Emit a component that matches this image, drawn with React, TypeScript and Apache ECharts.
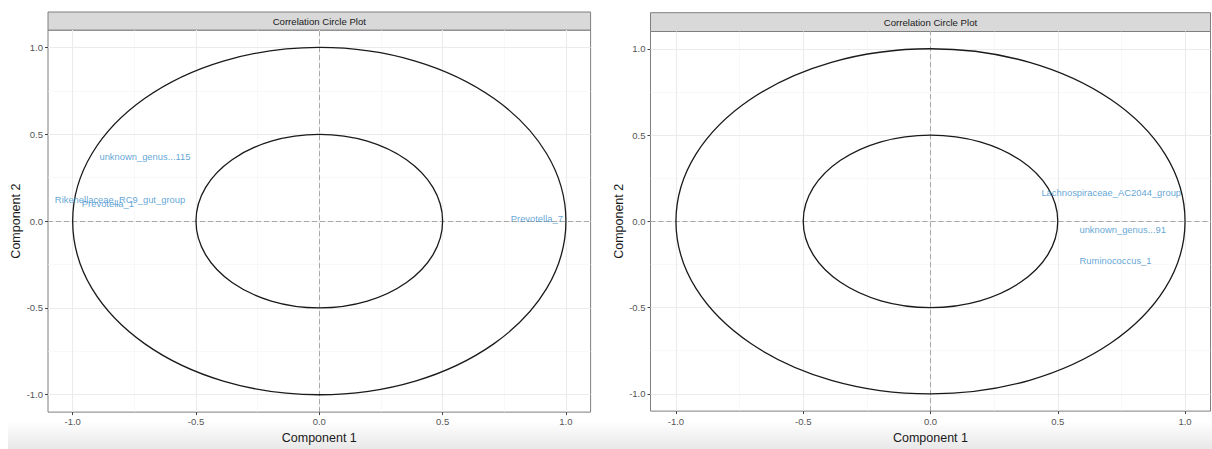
import React, { useEffect, useRef } from "react";
import * as echarts from "echarts";

const majorTicks = [-1, -0.5, 0, 0.5, 1];
const minorTicks = [-0.75, -0.25, 0.25, 0.75];
const circleRadii = [1, 0.5];

const leftNames = ["unknown_genus...115", "Rikenellaceae_RC9_gut_group", "Prevotella_1", "Prevotella_7"];
const leftX = [-0.707, -0.808, -0.857, 0.882];
const leftY = [0.37, 0.127, 0.1, 0.015];

const rightNames = ["Lachnospiraceae_AC2044_group", "unknown_genus...91", "Ruminococcus_1"];
const rightX = [0.71, 0.755, 0.727];
const rightY = [0.166, -0.046, -0.225];

const stripTitle = "Correlation Circle Plot";
const xTitle = "Component 1";
const yTitle = "Component 2";

const FONT = "'Liberation Sans', Arial, Helvetica, sans-serif";
const LABEL_BLUE = "#388ECC";

const panels = [
  { left: 48, top: 30.1, width: 542.6, height: 386.4, stripTop: 12, xGap: 15, xMargin: 4, yGap: 24, names: leftNames, xs: leftX, ys: leftY },
  { left: 650.5, top: 31.5, width: 560, height: 390.5, stripTop: 12.7, xGap: 18.5, xMargin: 5, yGap: 25.5, names: rightNames, xs: rightX, ys: rightY },
];

export default function App() {
  const ref = useRef<HTMLDivElement>(null);
  useEffect(() => {
    if (!ref.current) return;
    const chart = echarts.init(ref.current, undefined, { renderer: "svg" });

    const grid: any[] = [];
    const xAxis: any[] = [];
    const yAxis: any[] = [];
    const series: any[] = [];
    const graphic: any[] = [];

    graphic.push({
      type: "rect",
      z: -10,
      silent: true,
      shape: { x: 8, y: 421, width: 1204, height: 28 },
      style: {
        fill: new echarts.graphic.LinearGradient(0, 0, 0, 1, [
          { offset: 0, color: "#ffffff" },
          { offset: 1, color: "#e8e8e8" },
        ]),
      },
    });

    panels.forEach((p, i) => {
      grid.push({
        left: p.left,
        top: p.top,
        width: p.width,
        height: p.height,
        show: true,
        borderColor: "#7f7f7f",
        borderWidth: 1,
        backgroundColor: "transparent",
      });
      const axisCommon = {
        type: "value",
        gridIndex: i,
        min: -1.1,
        max: 1.1,
        splitLine: { show: false },
        axisLine: { show: false, onZero: false },
        axisTick: { show: true, customValues: majorTicks, length: 3, lineStyle: { color: "#444", width: 1 } },
        nameLocation: "middle",
        nameTextStyle: { fontFamily: FONT, fontSize: 12.5, color: "#1a1a1a" },
      };
      xAxis.push({
        ...axisCommon,
        position: "bottom",
        name: xTitle,
        nameGap: p.xGap,
        axisLabel: {
          customValues: majorTicks,
          formatter: (v: number) => v.toFixed(1),
          color: "#555",
          fontSize: 9.5,
          fontFamily: FONT,
          margin: p.xMargin,
        },
      });
      yAxis.push({
        ...axisCommon,
        position: "left",
        name: yTitle,
        nameGap: p.yGap,
        nameRotate: 90,
        axisLabel: {
          customValues: majorTicks,
          formatter: (v: number) => v.toFixed(1),
          color: "#555",
          fontSize: 9.5,
          fontFamily: FONT,
          margin: 5,
        },
      });

      // grid lines
      series.push({
        type: "line",
        xAxisIndex: i,
        yAxisIndex: i,
        data: [],
        z: 1,
        silent: true,
        markLine: {
          z: 1,
          silent: true,
          symbol: "none",
          label: { show: false },
          animation: false,
          data: [
            ...minorTicks.map((v) => ({ xAxis: v, lineStyle: { color: "#f3f3f3", width: 0.6, type: "solid" } })),
            ...minorTicks.map((v) => ({ yAxis: v, lineStyle: { color: "#f3f3f3", width: 0.6, type: "solid" } })),
            ...majorTicks.map((v) => ({ xAxis: v, lineStyle: { color: "#ebebeb", width: 1.1, type: "solid" } })),
            ...majorTicks.map((v) => ({ yAxis: v, lineStyle: { color: "#ebebeb", width: 1.1, type: "solid" } })),
          ],
        },
      });
      // dashed zero lines
      series.push({
        type: "line",
        xAxisIndex: i,
        yAxisIndex: i,
        data: [],
        z: 2,
        silent: true,
        markLine: {
          z: 2,
          silent: true,
          symbol: "none",
          label: { show: false },
          animation: false,
          lineStyle: { color: "#a8a8a8", width: 1, type: [5, 3] },
          data: [{ xAxis: 0 }, { yAxis: 0 }],
        },
      });
      // circles (correlation circles of radius r, drawn through the axis scales)
      series.push({
        type: "custom",
        xAxisIndex: i,
        yAxisIndex: i,
        z: 3,
        silent: true,
        clip: false,
        data: circleRadii.map((r) => [0, 0, r]),
        renderItem: (params: any, api: any) => {
          const c = api.coord([api.value(0), api.value(1)]);
          const s = api.size([api.value(2), api.value(2)]);
          return {
            type: "ellipse",
            shape: { cx: c[0], cy: c[1], rx: s[0], ry: s[1] },
            style: { fill: "none", stroke: "#1a1a1a", lineWidth: 1.3 },
          };
        },
      });
      // variable labels
      series.push({
        type: "scatter",
        xAxisIndex: i,
        yAxisIndex: i,
        z: 4,
        symbolSize: 0,
        data: p.names.map((n, k) => ({ name: n, value: [p.xs[k], p.ys[k]] })),
        label: {
          show: true,
          position: "inside",
          formatter: (d: any) => d.name,
          color: LABEL_BLUE,
          fontSize: 9.4,
          fontFamily: FONT,
        },
      });

      // strip
      graphic.push({
        type: "group",
        children: [
          {
            type: "rect",
            shape: { x: p.left, y: p.stripTop, width: p.width, height: p.top - p.stripTop },
            style: { fill: "#d9d9d9", stroke: "#7f7f7f", lineWidth: 1 },
          },
          {
            type: "text",
            x: p.left + p.width / 2,
            y: (p.stripTop + p.top) / 2,
            style: {
              text: stripTitle,
              fill: "#1a1a1a",
              font: `9.6px ${FONT}`,
              textAlign: "center",
              textVerticalAlign: "middle",
            },
          },
        ],
      });
    });

    chart.setOption({
      animation: false,
      backgroundColor: "#ffffff",
      grid,
      xAxis,
      yAxis,
      series,
      graphic,
    });
    return () => chart.dispose();
  }, []);

  return (
    <div
      ref={ref}
      style={{ position: "fixed", left: 0, top: 0, width: 1212, height: 449 }}
    />
  );
}
